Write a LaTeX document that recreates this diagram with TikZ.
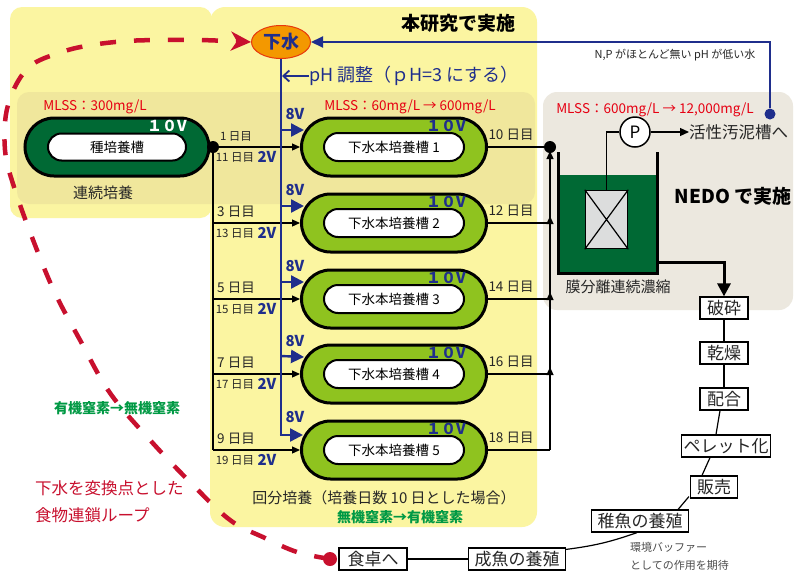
\documentclass[tikz,border=0pt]{standalone}
\usepackage{fontspec}
\setmainfont{Noto Sans CJK JP}
\usetikzlibrary{arrows.meta,shapes.geometric,calc}
\definecolor{pyel}{HTML}{FBF5A1}
\definecolor{pband}{HTML}{F0E79C}
\definecolor{pbeige}{HTML}{ECE8DF}
\definecolor{dgreen}{HTML}{006934}
\definecolor{lgreen}{HTML}{8FC31F}
\definecolor{orng}{HTML}{F39800}
\definecolor{navy}{HTML}{1F2E8C}
\definecolor{crim}{HTML}{C8102E}
\definecolor{mred}{HTML}{E60012}
\definecolor{ngreen}{HTML}{009944}
\definecolor{mgrey}{HTML}{DCDDDD}
\definecolor{eborder}{HTML}{E8380D}
\newcommand\fsz[1]{\fontsize{#1}{#1}\selectfont}
\tikzset{
  tankout/.style={rectangle, rounded corners=29pt, minimum width=185pt, minimum height=58pt, draw, line width=3pt, fill=lgreen},
  tankin/.style={rectangle, rounded corners=14pt, minimum width=140pt, minimum height=28pt, draw, line width=2pt, fill=white, font=\fsz{13.5}, inner sep=0pt},
  lbl/.style={inner sep=0pt, font=\fsz{13.5}, text=black!85},
  lbls/.style={inner sep=0pt, font=\fsz{11.5}, text=black!85},
  bv/.style={inner sep=0pt, font=\fsz{15}\bfseries, text=navy},
  blk/.style={draw=black, line width=1.2pt},
  blkarr/.style={blk, -{Triangle[length=8pt,width=7pt]}},
  bluearr/.style={draw=navy, line width=2.4pt, -{Triangle[length=13pt,width=13pt]}},
  chain/.style={draw, line width=1.2pt, fill=white, font=\fsz{17}, inner xsep=2pt, inner ysep=0pt, minimum height=22pt, text=black!85},
  redtxt/.style={inner sep=0pt, font=\fsz{13.5}, text=mred},
}
\begin{document}
\begin{tikzpicture}[x=1pt,y=-1pt]
\useasboundingbox (0,0) rectangle (803,579);
\fill[white] (0,0) rectangle (803,579);
% backgrounds
\fill[pyel, rounded corners=12pt] (10,7) rectangle (212,218);
\fill[pyel, rounded corners=15pt] (210,7) rectangle (537,527);
\fill[pband, rounded corners=12pt] (17,92) rectangle (535,204);
\fill[pbeige, rounded corners=14pt] (543,92) rectangle (793,310);

% seed tank
\node[rectangle, rounded corners=29pt, minimum width=184pt, minimum height=58pt, draw, line width=3pt, fill=dgreen] (seed) at (117,147) {};
\node[rectangle, rounded corners=13.5pt, minimum width=138pt, minimum height=27pt, draw, line width=2pt, fill=white, font=\fsz{13.5}, inner sep=0pt] (seedin) at (117,147) {種培養槽};
\node[inner sep=0pt, font=\fsz{15}\bfseries, text=white] (seedv) at (167,126) {１０V};
\node[redtxt] (mlss1) at (95,107) {MLSS：300mg/L};
\node[inner sep=0pt, font=\fsz{15}, text=black!85] (renzoku) at (103,193) {連続培養};
\node[circle, fill=black, minimum size=12pt, inner sep=0pt] (sd) at (213,147) {};

% sewage ellipse
\node[ellipse, minimum width=59pt, minimum height=33pt, fill=orng, draw=eborder, line width=1pt, font=\fsz{18}\bfseries, text=navy, inner sep=0pt] (shita) at (281,42) {下水};

% main tanks
\foreach \i/\y/\a/\b/\r/\fa in {1/147/1/11/10/11.5, 2/223/3/13/12/13.5, 3/299/5/15/14/13.5, 4/374/7/17/16/13.5, 5/450/9/19/18/13.5}{
  \node[tankout] (t\i) at (394,\y) {};
  \node[tankin] (t\i in) at (394,\y) {下水本培養槽 \i};
  \node[bv] (tv\i) at (446,\y-21) {１０V};
  \node[bv] (ev\i) at (295,\y-33) {8V};
  \node[inner sep=0pt, font=\fsz{\fa}, text=black!85] (la\i) at (236,\y-11) {\a{} 日目};
  \node[lbls] (lb\i) at (235,\y+10) {\b{} 日目};
  \node[bv] (tw\i) at (267,\y+10) {2V};
  \node[lbl] (lr\i) at (511,\y-12) {\r{} 日目};
  \coordinate (lc\i) at (213,\y);
  \coordinate (j\i) at (550,\y);
}

% black feed lines
\draw[blkarr] (sd) -- (t1.west);
\draw[blk] (sd) -- (lc5);
\foreach \i in {2,3,4} {\draw[blkarr] (lc\i) -- (t\i.west);}
\draw[blkarr] (lc5) -- (t5.west);

% output lines
\draw[blk] (t5.east) -- (j5);
\foreach \i in {2,3,4} {\draw[blk] (t\i.east) -- (j\i);}
\draw[blkarr] (j5) -- ([yshift=7pt]j4);
\draw[blkarr] (j4) -- ([yshift=7pt]j3);
\draw[blkarr] (j3) -- ([yshift=7pt]j2);
\draw[blkarr] (j2) -- ([yshift=-4pt]j1);
\draw[blk] (t1.east) -- (j1);
\node[circle, fill=black, minimum size=12pt, inner sep=0pt] (od) at (j1) {};

% blue lines
\coordinate (b1) at (281,130);
\coordinate (b2) at (281,206);
\coordinate (b3) at (281,282);
\coordinate (b4) at (281,356);
\coordinate (b5) at (281,435);
\draw[draw=navy, line width=2.4pt] (shita.south) -- (b5);
\foreach \i in {1,2,3,4} {\draw[bluearr] (b\i) -- ([xshift=4pt,yshift=17pt]t\i.west);}
\draw[bluearr] ([xshift=-1.2pt]b5) -- ([xshift=3pt,yshift=15pt]t5.west);

% pH
\node[anchor=west, inner sep=0pt, font=\fsz{18}, text=navy] (ph) at (309,76) {pH 調整（ｐH=3 にする）};
\coordinate (phc) at (282,76);
\draw[draw=navy, line width=1.8pt, -{Straight Barb[length=6pt,width=11pt]}] (ph.west) -- (phc);

\node[inner sep=0pt, font=\fsz{19}\bfseries] (honken) at (458,23) {本研究で実施};
\node[redtxt] (mlss2) at (410,107) {MLSS：60mg/L → 600mg/L};

% bottom texts of middle panel
\node[inner sep=0pt, font=\fsz{15}, text=black!85] (kaibun) at (384,498) {回分培養（培養日数 10 日とした場合）};
\node[inner sep=0pt, font=\fsz{14}\bfseries, text=ngreen] (n1) at (400,517) {無機窒素→有機窒素};

% right panel
\node[redtxt] (mlss3) at (655,110) {MLSS：600mg/L → 12,000mg/L};
\node[inner sep=0pt, font=\fsz{19}\bfseries] (nedo) at (733,196) {NEDO で実施};
\fill[dgreen] (558,175) rectangle (657,273);
\draw[line width=3pt] (558,152) -- (558,273) -- (657,273) -- (657,152);
\node[rectangle, draw, line width=1.5pt, fill=mgrey, minimum width=42pt, minimum height=58pt, inner sep=0pt] (mem) at (606.5,219.5) {};
\draw[line width=1.2pt] (mem.north west) -- (mem.south east) (mem.north east) -- (mem.south west);
\node[circle, draw, line width=1.5pt, fill=white, minimum size=30pt, inner sep=0pt, font=\fsz{17}] (P) at (635,132) {P};
\draw[line width=1.2pt] (mem.north) |- (P.west);
\node[anchor=west, inner sep=0pt, font=\fsz{16.5}, text=black!85] (kassei) at (689,132) {活性汚泥槽へ};
\draw[line width=1.2pt, -{Triangle[length=9pt,width=8pt]}] (P.east) -- (kassei.west);
\node[inner sep=0pt, font=\fsz{15}, text=black!85] (maku) at (618,287) {膜分離連続濃縮};

% feedback blue
\node[circle, fill=navy, minimum size=11pt, inner sep=0pt] (bd) at (770,114) {};
\draw[draw=navy, line width=2pt, -{Triangle[length=12pt,width=11pt]}] (bd) |- (shita.east);
\node[inner sep=0pt, font=\fsz{11}, text=black!85] (np) at (675,55) {N,P がほとんど無い pH が低い水};

% chain
\node[chain, minimum width=48pt] (hasai) at (724,308) {破砕};
\node[chain, minimum width=48pt] (kanso) at (724,353) {乾燥};
\node[chain, minimum width=48pt] (haigo) at (724,399) {配合};
\node[chain, minimum width=89pt] (pellet) at (726,446) {ペレット化};
\node[chain, minimum width=47pt] (hanbai) at (714,487) {販売};
\node[chain, minimum width=97pt] (chigyo) at (640,521) {稚魚の養殖};
\node[chain, minimum width=97pt] (seigyo) at (517,559) {成魚の養殖};
\node[chain, minimum width=68pt] (shoku) at (373,559) {食卓へ};
\coordinate (tankout) at (657,262);
\draw[line width=3pt, -{Triangle[length=13pt,width=13pt]}] (tankout) -| (hasai.north);
\draw[line width=1.2pt] (hasai.south) -- (kanso.north);
\draw[line width=1.2pt] (kanso.south) -- (haigo.north);
\draw[line width=1.2pt] ([xshift=-4pt]haigo.south) -- ([xshift=-10pt]pellet.north);
\draw[line width=1.2pt] ([xshift=-16pt]pellet.south) -- ([xshift=-12pt]hanbai.north);
\draw[line width=1.2pt] ([xshift=-1pt,yshift=2pt]hanbai.south west) -- ([xshift=-11pt]chigyo.north east);
\draw[line width=1.2pt] ([xshift=-3pt]chigyo.south) to[bend left=6] ([yshift=-2pt]seigyo.north east);
\draw[line width=1.2pt] (seigyo.west) -- (shoku.east);
\node[anchor=west, inner sep=0pt, font=\fsz{11}, text=black!70] (kan1) at (630,547) {環境バッファー};
\node[anchor=west, inner sep=0pt, font=\fsz{11}, text=black!70] (kan2) at (630,565) {としての作用を期待};

% left texts
\node[inner sep=0pt, font=\fsz{14}\bfseries, text=ngreen] (n2) at (117,408) {有機窒素→無機窒素};
\node[anchor=west, inner sep=0pt, font=\fsz{16.5}, text=crim] (loop1) at (35,488) {下水を変換点とした};
\node[anchor=west, inner sep=0pt, font=\fsz{16.5}, text=crim] (loop2) at (35,515) {食物連鎖ループ};

% red dashed loop
\node[circle, fill=crim, minimum size=14pt, inner sep=0pt] (rdot) at (330,559) {};
\draw[crim, line width=4.5pt, dash pattern=on 16pt off 18pt, -{Stealth[length=20pt,width=19pt,inset=6pt]}]
  plot[smooth, tension=0.6] coordinates {(rdot) (297,552) (265,538) (230,520) (190,482) (150,440) (110,393) (80,340) (55,293) (35,245) (15,190) (5,150) (8,105) (28,68) (62,52) (92,45) (127,41) (162,40) (200,40) (shita.west)};
\end{tikzpicture}
\end{document}
